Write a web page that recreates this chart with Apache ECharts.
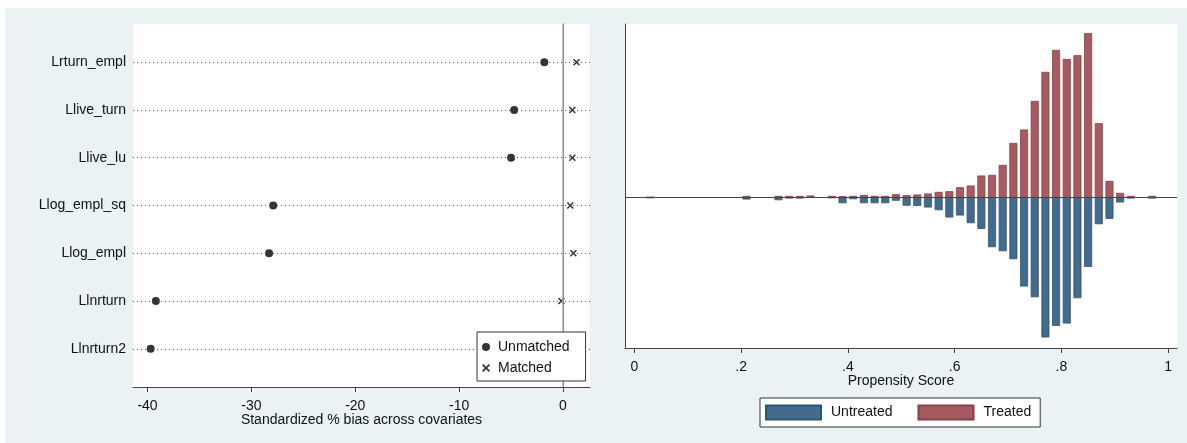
<!DOCTYPE html>
<html>
<head>
<meta charset="utf-8">
<script src="https://cdn.jsdelivr.net/npm/echarts@6/dist/echarts.min.js"></script>
<style>
html,body{margin:0;padding:0;background:#fff;}
#c{width:1187px;height:443px;}
</style>
</head>
<body>
<div id="c"></div>
<script>
// ---- Left panel: standardized % bias ----
const covariates = ['Lrturn_empl','Llive_turn','Llive_lu','Llog_empl_sq','Llog_empl','Llnrturn','Llnrturn2'];
const unmatchedBias = [-1.8, -4.7, -5.0, -27.9, -28.3, -39.2, -39.7];
const matchedBias   = [1.3, 0.9, 0.9, 0.7, 1.0, -0.15, 0.9];
const biasTicks = [-40, -30, -20, -10, 0];

// ---- Right panel: propensity score histogram (bin centres, bin width 0.02) ----
const binCenters = [0.03,0.21,0.27,0.29,0.31,0.33,0.37,0.39,0.41,0.43,0.45,0.47,0.49,0.51,0.53,0.55,0.57,0.59,0.61,0.63,0.65,0.67,0.69,0.71,0.73,0.75,0.77,0.79,0.81,0.83,0.85,0.87,0.89,0.91,0.93,0.97];
const treatedFreq = [0,1.3,1.3,1.3,1.3,1.7,1.3,1,1.3,2.3,1.3,1.3,3,2,2.7,3.7,5.3,6,10,11.7,21.7,22.3,32.3,54.3,67.7,96.3,125.3,147.3,138.3,142,164,74,16.3,4.3,1.3,1.3];
const untreatedFreq = [1,2.3,3,1.3,1.3,0.5,1,6,2,6,6,6,3.5,8.5,8.7,10.3,13,20.3,18.3,26,31.7,50,54,62,89.3,100,140.3,128.7,126.3,101,69.7,27,21.7,5.3,1.3,1.3];
const scoreTickValues = [0, 0.2, 0.4, 0.6, 0.8, 1];
const scoreTickLabels = ['0', '.2', '.4', '.6', '.8', '1'];

const FONT = "'Liberation Sans', Arial, sans-serif";
const axisCol = '#444';
const xMark = 'path://M0,1.5L1.5,0L5,3.5L8.5,0L10,1.5L6.5,5L10,8.5L8.5,10L5,6.5L1.5,10L0,8.5L3.5,5Z';

const chart = echarts.init(document.getElementById('c'), null, {renderer: 'canvas'});

const option = {
  backgroundColor: '#eaf2f3',
  animation: false,
  textStyle: {fontFamily: FONT},
  graphic: [
    {type: 'rect', shape: {x: 0, y: 0, width: 1187, height: 8}, style: {fill: '#fff'}, silent: true},
    {type: 'rect', shape: {x: 0, y: 0, width: 5, height: 443}, style: {fill: '#fff'}, silent: true}
  ],
  grid: [
    {left: 133, top: 24, width: 457, height: 363, show: true, backgroundColor: '#fff', borderWidth: 0},
    {left: 625, top: 24, width: 552, height: 324, show: true, backgroundColor: '#fff', borderWidth: 0}
  ],
  legend: [
    {
      data: ['Unmatched', 'Matched'],
      orient: 'vertical', left: 477, top: 332, z: 20,
      padding: [8, 16, 6, 5], itemGap: 7, itemWidth: 8, itemHeight: 8,
      backgroundColor: '#fff', borderColor: '#333', borderWidth: 1, borderRadius: 0,
      textStyle: {fontSize: 14, color: '#111', fontFamily: FONT, padding: [0, 0, 0, 3]}
    },
    {
      data: ['Untreated', 'Treated'],
      orient: 'horizontal', left: 760, top: 398, icon: 'rect', z: 20,
      padding: [6.5, 9, 6.5, 5], itemGap: 25, itemWidth: 55, itemHeight: 14,
      backgroundColor: '#fff', borderColor: '#333', borderWidth: 1, borderRadius: 0,
      textStyle: {fontSize: 14, color: '#111', fontFamily: FONT, padding: [0, 0, 0, 5]}
    }
  ],
  xAxis: [
    {
      gridIndex: 0, type: 'value', min: -41.4, max: 2.6,
      name: 'Standardized % bias across covariates', nameLocation: 'middle', nameGap: 26,
      nameMoveOverlap: false,
      nameTextStyle: {fontSize: 14, color: '#111', fontFamily: FONT},
      axisLine: {show: true, lineStyle: {color: axisCol, width: 1}},
      axisTick: {show: true, length: 5, customValues: biasTicks, lineStyle: {color: axisCol}},
      axisLabel: {customValues: biasTicks, fontSize: 14, color: '#111', margin: 12, fontFamily: FONT},
      splitLine: {show: false}
    },
    {
      gridIndex: 1, type: 'value', min: -0.0175, max: 1.0165,
      name: 'Propensity Score', nameLocation: 'middle', nameGap: 26,
      nameMoveOverlap: false,
      nameTextStyle: {fontSize: 14, color: '#111', fontFamily: FONT},
      axisLine: {show: true, onZero: false, lineStyle: {color: axisCol, width: 1}},
      axisTick: {show: true, length: 5, customValues: scoreTickValues, lineStyle: {color: axisCol}},
      axisLabel: {customValues: scoreTickValues, fontSize: 14, color: '#111', margin: 12, fontFamily: FONT,
        formatter: v => scoreTickLabels[Math.round(v * 5)]},
      splitLine: {show: false}
    }
  ],
  yAxis: [
    {
      gridIndex: 0, type: 'value', min: 0.2, max: 7.8, inverse: true,
      axisLine: {show: true, lineStyle: {color: axisCol, width: 1}},
      axisTick: {show: false},
      axisLabel: {customValues: [1,2,3,4,5,6,7], fontSize: 14, color: '#111', margin: 7, fontFamily: FONT,
        formatter: v => covariates[Math.round(v) - 1]},
      splitLine: {show: false}
    },
    {
      gridIndex: 1, type: 'value', min: -150.8, max: 173.2,
      axisLine: {show: true, onZero: false, lineStyle: {color: axisCol, width: 1}},
      axisTick: {show: false},
      axisLabel: {show: false},
      splitLine: {show: false}
    }
  ],
  series: [
    {
      name: 'Unmatched', type: 'scatter', xAxisIndex: 0, yAxisIndex: 0,
      symbol: 'circle', symbolSize: 8,
      itemStyle: {color: '#000'},
      data: unmatchedBias.map((v, i) => [v, i + 1]),
      z: 3,
      markLine: {
        silent: true, symbol: 'none', label: {show: false}, animation: false,
        lineStyle: {color: '#555', type: [1, 3], width: 1},
        data: covariates.map((c, i) => ({yAxis: i + 1}))
          .concat([{xAxis: 0, lineStyle: {color: '#aaa', type: 'solid', width: 1.5}}])
      }
    },
    {
      name: 'Matched', type: 'scatter', xAxisIndex: 0, yAxisIndex: 0,
      symbol: xMark, symbolSize: 7,
      itemStyle: {color: '#000'},
      data: matchedBias.map((v, i) => [v, i + 1]),
      z: 3
    },
    {
      name: 'Untreated', type: 'bar', xAxisIndex: 1, yAxisIndex: 1, stack: 'ps',
      barWidth: 8,
      itemStyle: {color: '#446a8c', borderColor: '#2e5474', borderWidth: 0.8},
      data: binCenters.map((x, i) => [x, -untreatedFreq[i]])
    },
    {
      name: 'Treated', type: 'bar', xAxisIndex: 1, yAxisIndex: 1, stack: 'ps',
      barWidth: 8,
      itemStyle: {color: '#a65a62', borderColor: '#8a3d46', borderWidth: 0.8},
      data: binCenters.map((x, i) => [x, treatedFreq[i]]),
      markLine: {
        silent: true, symbol: 'none', label: {show: false}, animation: false,
        lineStyle: {color: '#444', type: 'solid', width: 1},
        data: [{yAxis: 0}]
      }
    }
  ]
};
chart.setOption(option);
</script>
</body>
</html>
